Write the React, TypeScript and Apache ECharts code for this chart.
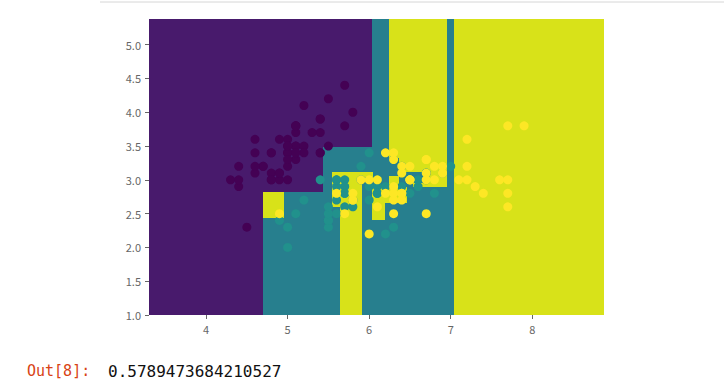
import React, { useEffect, useRef } from "react";
import * as echarts from "echarts";

// Tick labels
const xTicks = [4, 5, 6, 7, 8];
const yTicks = [1.0, 1.5, 2.0, 2.5, 3.0, 3.5, 4.0, 4.5, 5.0];
const xRange = [3.3, 8.88];
const yRange = [1.0, 5.38];

// Decision regions: [x0, x1, y0, y1, class]
const regions = [
  [3.3, 8.88, 1.0, 5.38, 0],
  [4.7, 7.04, 1.0, 2.82, 1],
  [5.43, 7.04, 2.82, 3.48, 1],
  [6.03, 7.04, 3.48, 5.38, 1],
  [7.04, 8.88, 1.0, 5.38, 2],
  [6.24, 6.95, 2.9, 5.38, 2],
  [4.7, 4.95, 2.44, 2.82, 2],
  [5.64, 5.91, 1.0, 3.12, 2],
  [5.54, 6.05, 3.04, 3.12, 2],
  [5.54, 5.64, 2.6, 3.12, 2],
  [6.03, 6.2, 2.4, 2.9, 2],
  [6.2, 6.46, 2.66, 2.9, 2],
  [6.24, 6.36, 3.05, 3.33, 1],
  [6.36, 6.54, 2.9, 3.12, 1],
  [6.54, 6.66, 2.95, 3.12, 1],
];

// Iris sepal length / sepal width
const setosa = [
  [5.1, 3.5], [4.9, 3.0], [4.7, 3.2], [4.6, 3.1], [5.0, 3.6], [5.4, 3.9], [4.6, 3.4], [5.0, 3.4], [4.4, 2.9], [4.9, 3.1],
  [5.4, 3.7], [4.8, 3.4], [4.8, 3.0], [4.3, 3.0], [5.8, 4.0], [5.7, 4.4], [5.4, 3.9], [5.1, 3.5], [5.7, 3.8], [5.1, 3.8],
  [5.4, 3.4], [5.1, 3.7], [4.6, 3.6], [5.1, 3.3], [4.8, 3.4], [5.0, 3.0], [5.0, 3.4], [5.2, 3.5], [5.2, 3.4], [4.7, 3.2],
  [4.8, 3.1], [5.4, 3.4], [5.2, 4.1], [5.5, 4.2], [4.9, 3.1], [5.0, 3.2], [5.5, 3.5], [4.9, 3.6], [4.4, 3.0], [5.1, 3.4],
  [5.0, 3.5], [4.5, 2.3], [4.4, 3.2], [5.0, 3.5], [5.1, 3.8], [4.8, 3.0], [5.1, 3.8], [4.6, 3.2], [5.3, 3.7], [5.0, 3.3],
];
const versicolor = [
  [7.0, 3.2], [6.4, 3.2], [6.9, 3.1], [5.5, 2.3], [6.5, 2.8], [5.7, 2.8], [6.3, 3.3], [4.9, 2.4], [6.6, 2.9], [5.2, 2.7],
  [5.0, 2.0], [5.9, 3.0], [6.0, 2.2], [6.1, 2.9], [5.6, 2.9], [6.7, 3.1], [5.6, 3.0], [5.8, 2.7], [6.2, 2.2], [5.6, 2.5],
  [5.9, 3.2], [6.1, 2.8], [6.3, 2.5], [6.1, 2.8], [6.4, 2.9], [6.6, 3.0], [6.8, 2.8], [6.7, 3.0], [6.0, 2.9], [5.7, 2.6],
  [5.5, 2.4], [5.5, 2.4], [5.8, 2.7], [6.0, 2.7], [5.4, 3.0], [6.0, 3.4], [6.7, 3.1], [6.3, 2.3], [5.6, 3.0], [5.5, 2.5],
  [5.5, 2.6], [6.1, 3.0], [5.8, 2.6], [5.0, 2.3], [5.6, 2.7], [5.7, 3.0], [5.7, 2.9], [6.2, 2.9], [5.1, 2.5], [5.7, 2.8],
];
const virginica = [
  [6.3, 3.3], [5.8, 2.7], [7.1, 3.0], [6.3, 2.9], [6.5, 3.0], [7.6, 3.0], [4.9, 2.5], [7.3, 2.9], [6.7, 2.5], [7.2, 3.6],
  [6.5, 3.2], [6.4, 2.7], [6.8, 3.0], [5.7, 2.5], [5.8, 2.8], [6.4, 3.2], [6.5, 3.0], [7.7, 3.8], [7.7, 2.6], [6.0, 2.2],
  [6.9, 3.2], [5.6, 2.8], [7.7, 2.8], [6.3, 2.7], [6.7, 3.3], [7.2, 3.2], [6.2, 2.8], [6.1, 3.0], [6.4, 2.8], [7.2, 3.0],
  [7.4, 2.8], [7.9, 3.8], [6.4, 2.8], [6.3, 2.8], [6.1, 2.6], [7.7, 3.0], [6.3, 3.4], [6.4, 3.1], [6.0, 3.0], [6.9, 3.1],
  [6.7, 3.1], [6.9, 3.1], [5.8, 2.7], [6.8, 3.2], [6.7, 3.3], [6.7, 3.0], [6.3, 2.5], [6.5, 3.0], [6.2, 3.4], [5.9, 3.0],
];

const scoreText = "0.5789473684210527";

const regionColors = ["#481a6c", "#277f8e", "#d8e219"];
const pointColors = ["#440154", "#21918c", "#fde725"];

export default function App() {
  const ref = useRef<HTMLDivElement>(null);
  useEffect(() => {
    if (!ref.current) return;
    const chart = echarts.init(ref.current, undefined, { renderer: "svg" });
    const tickStyle = { color: "#666", fontSize: 11, fontFamily: "'Noto Sans CJK SC', sans-serif" };
    chart.setOption({
      animation: false,
      grid: { left: 149, right: 120, top: 19, bottom: 73, containLabel: false },
      xAxis: {
        type: "value",
        min: xRange[0],
        max: xRange[1],
        splitLine: { show: false },
        axisLine: { show: false },
        axisTick: { show: true, length: 4, customValues: xTicks, lineStyle: { color: "#666" } },
        axisLabel: { customValues: xTicks, margin: 8, ...tickStyle, formatter: (v: number) => String(v) },
      },
      yAxis: {
        type: "value",
        min: yRange[0],
        max: yRange[1],
        splitLine: { show: false },
        axisLine: { show: false },
        axisTick: { show: true, length: 4, customValues: yTicks, lineStyle: { color: "#666" } },
        axisLabel: { customValues: yTicks, margin: 8, ...tickStyle, formatter: (v: number) => v.toFixed(1) },
      },
      series: [
        {
          type: "custom",
          clip: true,
          silent: true,
          data: regions,
          encode: { x: [0, 1], y: [2, 3] },
          renderItem: (params: any, api: any) => {
            const p0 = api.coord([api.value(0), api.value(3)]);
            const p1 = api.coord([api.value(1), api.value(2)]);
            const x = Math.round(p0[0]);
            const y = Math.round(p0[1]);
            return {
              type: "rect",
              shape: { x, y, width: Math.round(p1[0]) - x, height: Math.round(p1[1]) - y },
              style: { fill: regionColors[api.value(4)] },
            };
          },
        },
        ...[setosa, versicolor, virginica].map((d, i) => ({
          type: "scatter",
          data: d,
          symbolSize: 9,
          itemStyle: { color: pointColors[i], opacity: 1 },
          silent: true,
        })),
      ],
      graphic: [
        { type: "line", shape: { x1: 100, y1: 2, x2: 724, y2: 2 }, style: { stroke: "#d6d6d6", lineWidth: 1 } },
        {
          type: "text",
          x: 27,
          y: 371,
          style: { text: "Out[8]:", fill: "#d84315", font: "15px 'DejaVu Sans Mono', monospace", verticalAlign: "middle" },
        },
        {
          type: "text",
          x: 108,
          y: 371,
          style: { text: scoreText, fill: "#111", font: "16px 'DejaVu Sans Mono', monospace", verticalAlign: "middle" },
        },
      ],
    });
    return () => chart.dispose();
  }, []);
  return <div ref={ref} style={{ position: "absolute", left: 0, top: 0, width: 724, height: 388 }} />;
}
